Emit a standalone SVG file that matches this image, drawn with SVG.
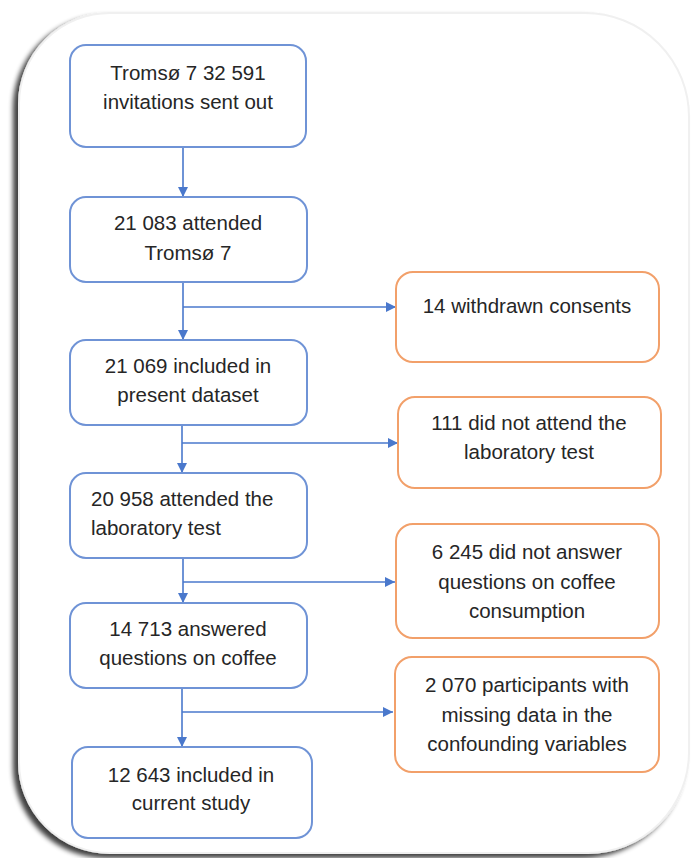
<svg xmlns="http://www.w3.org/2000/svg" width="699" height="858" viewBox="0 0 699 858">
<defs>
<style>
.b{fill:#fff;stroke:#6f93d6;stroke-width:2}
.o{fill:#fff;stroke:#f2a06a;stroke-width:2}
.t{font-family:"Liberation Sans",Arial,sans-serif;font-size:20.5px;fill:#262626;text-anchor:middle}
.l{text-anchor:start}
.c{fill:none;stroke:#4a78cc;stroke-width:1.6}
</style>
<marker id="ah" viewBox="0 0 10 10" refX="10" refY="5" markerWidth="10" markerHeight="10" markerUnits="userSpaceOnUse" orient="auto">
<path d="M0,0 L10,5 L0,10 z" fill="#4a78cc"/>
</marker>
<filter id="sh" x="-10%" y="-10%" width="120%" height="120%">
<feGaussianBlur in="SourceAlpha" stdDeviation="2.5"/>
<feOffset dx="-5" dy="4" result="b"/>
<feComponentTransfer><feFuncA type="linear" slope="0.75"/></feComponentTransfer>
<feMerge><feMergeNode/><feMergeNode in="SourceGraphic"/></feMerge>
</filter>
</defs>
<rect width="699" height="858" fill="#fff"/>
<g id="frame">
<path d="M110,13 H585 A104,104 0 0 1 689,117 V752 A101,101 0 0 1 588,853 H110 A91,91 0 0 1 19,762 V104 A91,91 0 0 1 110,13 Z" fill="#fff" stroke="#f0f0f0" stroke-width="2" filter="url(#sh)"/>
</g>
<g id="connectors">
<line class="c" x1="183" y1="147" x2="183" y2="197" marker-end="url(#ah)"/>
<line class="c" x1="183" y1="282" x2="183" y2="340" marker-end="url(#ah)"/>
<line class="c" x1="183" y1="307" x2="396" y2="307" marker-end="url(#ah)"/>
<line class="c" x1="182" y1="425" x2="182" y2="473" marker-end="url(#ah)"/>
<line class="c" x1="182" y1="443" x2="398" y2="443" marker-end="url(#ah)"/>
<line class="c" x1="183" y1="558" x2="183" y2="603" marker-end="url(#ah)"/>
<line class="c" x1="183" y1="582" x2="395" y2="582" marker-end="url(#ah)"/>
<line class="c" x1="182" y1="688" x2="182" y2="747" marker-end="url(#ah)"/>
<line class="c" x1="182" y1="712" x2="393" y2="712" marker-end="url(#ah)"/>
</g>
<g id="n1"><rect class="b" x="70" y="45" width="236" height="102" rx="16"/>
<text class="t" x="188" y="80">Tromsø 7 32 591</text><text class="t" x="188" y="109">invitations sent out</text></g>
<g id="n2"><rect class="b" x="70" y="197" width="237" height="85" rx="16"/>
<text class="t" x="188" y="230">21 083 attended</text><text class="t" x="188" y="260">Tromsø 7</text></g>
<g id="n3"><rect class="b" x="70" y="340" width="237" height="85" rx="16"/>
<text class="t" x="188" y="373">21 069 included in</text><text class="t" x="188" y="402">present dataset</text></g>
<g id="n4"><rect class="b" x="70" y="473" width="237" height="85" rx="16"/>
<text class="t l" x="91" y="506">20 958 attended the</text><text class="t l" x="91" y="535">laboratory test</text></g>
<g id="n5"><rect class="b" x="70" y="603" width="237" height="85" rx="16"/>
<text class="t" x="188" y="636">14 713 answered</text><text class="t" x="188" y="665">questions on coffee</text></g>
<g id="n6"><rect class="b" x="72" y="747" width="240" height="91" rx="16"/>
<text class="t" x="191" y="782">12 643 included in</text><text class="t" x="191" y="810">current study</text></g>
<g id="e1"><rect class="o" x="396" y="272" width="263" height="90" rx="17"/>
<text class="t" x="527" y="313">14 withdrawn consents</text></g>
<g id="e2"><rect class="o" x="398" y="397" width="263" height="91" rx="17"/>
<text class="t" x="529" y="430">111 did not attend the</text><text class="t" x="529" y="459">laboratory test</text></g>
<g id="e3"><rect class="o" x="396" y="524" width="263" height="114" rx="17"/>
<text class="t" x="527" y="559">6 245 did not answer</text><text class="t" x="527" y="589">questions on coffee</text><text class="t" x="527" y="618">consumption</text></g>
<g id="e4"><rect class="o" x="395" y="657" width="264" height="115" rx="17"/>
<text class="t" x="527" y="692">2 070 participants with</text><text class="t" x="527" y="722">missing data in the</text><text class="t" x="527" y="751">confounding variables</text></g>
</svg>
